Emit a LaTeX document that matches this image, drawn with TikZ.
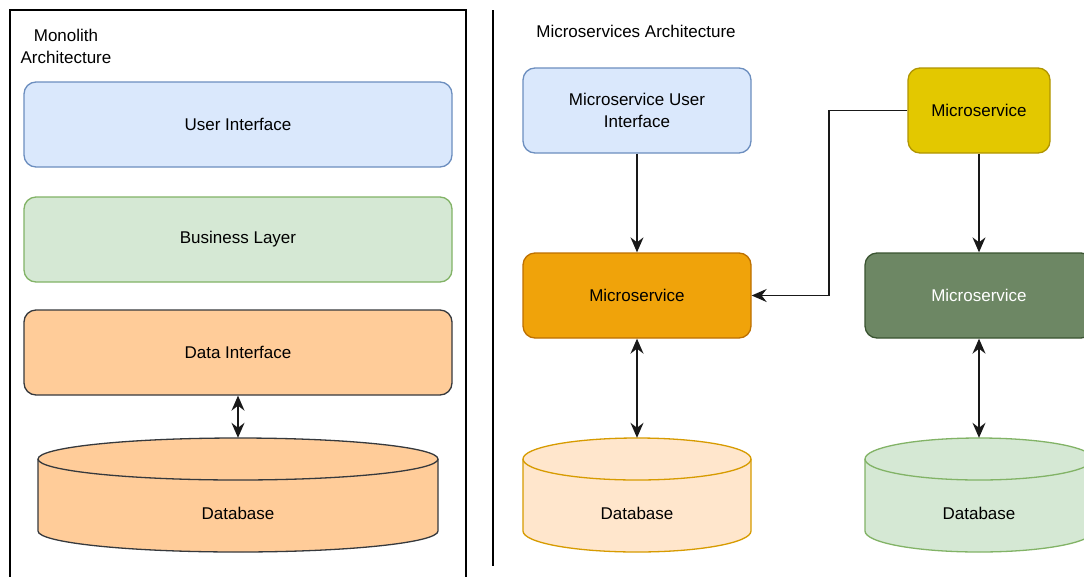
\documentclass[tikz,border=0pt]{standalone}
\usepackage{fontspec}
\setmainfont{Liberation Sans}
\usetikzlibrary{arrows.meta,calc}
\definecolor{uifill}{HTML}{DAE8FC}\definecolor{uistroke}{HTML}{6C8EBF}
\definecolor{blfill}{HTML}{D5E8D4}\definecolor{blstroke}{HTML}{82B366}
\definecolor{difill}{HTML}{FFCC99}\definecolor{distroke}{HTML}{36393D}
\definecolor{yfill}{HTML}{E3C800}\definecolor{ystroke}{HTML}{B09500}
\definecolor{ofill}{HTML}{F0A30A}\definecolor{ostroke}{HTML}{BD7000}
\definecolor{gfill}{HTML}{6D8764}\definecolor{gstroke}{HTML}{3A5431}
\definecolor{odbfill}{HTML}{FFE6CC}\definecolor{odbstroke}{HTML}{D79B00}
\tikzset{
  txt/.style={font=\fontsize{17}{22}\selectfont, align=center},
  box/.style={txt, draw, line width=1.3pt, rounded corners=12pt, minimum height=85pt, inner sep=0pt},
  dbnode/.style={minimum width=#1, minimum height=114pt, inner sep=0pt},
  arr/.style={draw=black!90, line width=1.5pt, -{Stealth[length=15pt,width=13pt,inset=5pt]}},
  dblarr/.style={draw=black!90, line width=1.5pt, {Stealth[length=15pt,width=13pt,inset=5pt]}-{Stealth[length=15pt,width=13pt,inset=5pt]}},
}
\newcommand{\cyl}[6]{% x1, x2, ytop, ybot, fill, stroke
  \pgfmathsetmacro{\rx}{(#2-#1)/2}
  \filldraw[fill=#5, draw=#6, line width=1.3pt]
    (#1,-#3-21) -- (#1,-#4+21) arc[start angle=180,end angle=360,x radius=\rx,y radius=21]
    -- (#2,-#3-21) arc[start angle=0,end angle=180,x radius=\rx,y radius=21] -- cycle;
  \draw[draw=#6, line width=1.3pt] (#1,-#3-21) arc[start angle=180,end angle=360,x radius=\rx,y radius=21];
}
\begin{document}
\begin{tikzpicture}[x=1pt,y=1pt]
\useasboundingbox (0,0) rectangle (1084,-576);
\clip (0,0) rectangle (1084,-576);
\fill[white] (0,0) rectangle (1084,-576);
% Monolith frame
\node[draw, line width=1.3pt, minimum width=456pt, minimum height=600pt, inner sep=0pt] (frame) at (238,-310) {};
\node[txt] (mtitle) at (66,-46) {Monolith\\Architecture};
\node[box, fill=uifill, draw=uistroke, minimum width=428pt] (ui) at (238,-124.5) {User Interface};
\node[box, fill=blfill, draw=blstroke, minimum width=428pt] (bl) at (238,-239.5) {Business Layer};
\node[box, fill=difill, draw=distroke, minimum width=428pt] (di) at (238,-352.5) {Data Interface};
\cyl{38}{438}{438}{552}{difill}{distroke}
\node[dbnode=400pt] (db1) at (238,-495) {};
\node[txt] (db1l) at (238,-513) {Database};
\draw[dblarr] (di.south) -- (db1.north);
% divider
\coordinate (dtop) at (493,-10);
\coordinate (dbot) at (493,-566);
\draw[line width=2.6pt] (dtop) -- (dbot);
% Microservices
\node[txt] (mstitle) at (636,-31) {Microservices Architecture};
\node[box, fill=uifill, draw=uistroke, minimum width=228pt] (msui) at (637,-110.5) {Microservice User\\Interface};
\node[box, fill=yfill, draw=ystroke, minimum width=142pt] (msy) at (979,-110.5) {Microservice};
\node[box, fill=ofill, draw=ostroke, minimum width=228pt] (mso) at (637,-295.5) {Microservice};
\node[box, fill=gfill, draw=gstroke, minimum width=228pt, text=white] (msg) at (979,-295.5) {Microservice};
\cyl{523}{751}{438}{552}{odbfill}{odbstroke}
\node[dbnode=228pt] (db2) at (637,-495) {};
\node[txt] (db2l) at (637,-513) {Database};
\cyl{865}{1093}{438}{552}{blfill}{blstroke}
\node[dbnode=228pt] (db3) at (979,-495) {};
\node[txt] (db3l) at (979,-513) {Database};
\coordinate (bend) at (829,-110.5);
\draw[arr] (msui.south) -- (mso.north);
\draw[arr] (msy.south) -- (msg.north);
\draw[arr] (msy.west) -- (bend) |- (mso.east);
\draw[dblarr] (mso.south) -- (db2.north);
\draw[dblarr] (msg.south) -- (db3.north);
\end{tikzpicture}
\end{document}
